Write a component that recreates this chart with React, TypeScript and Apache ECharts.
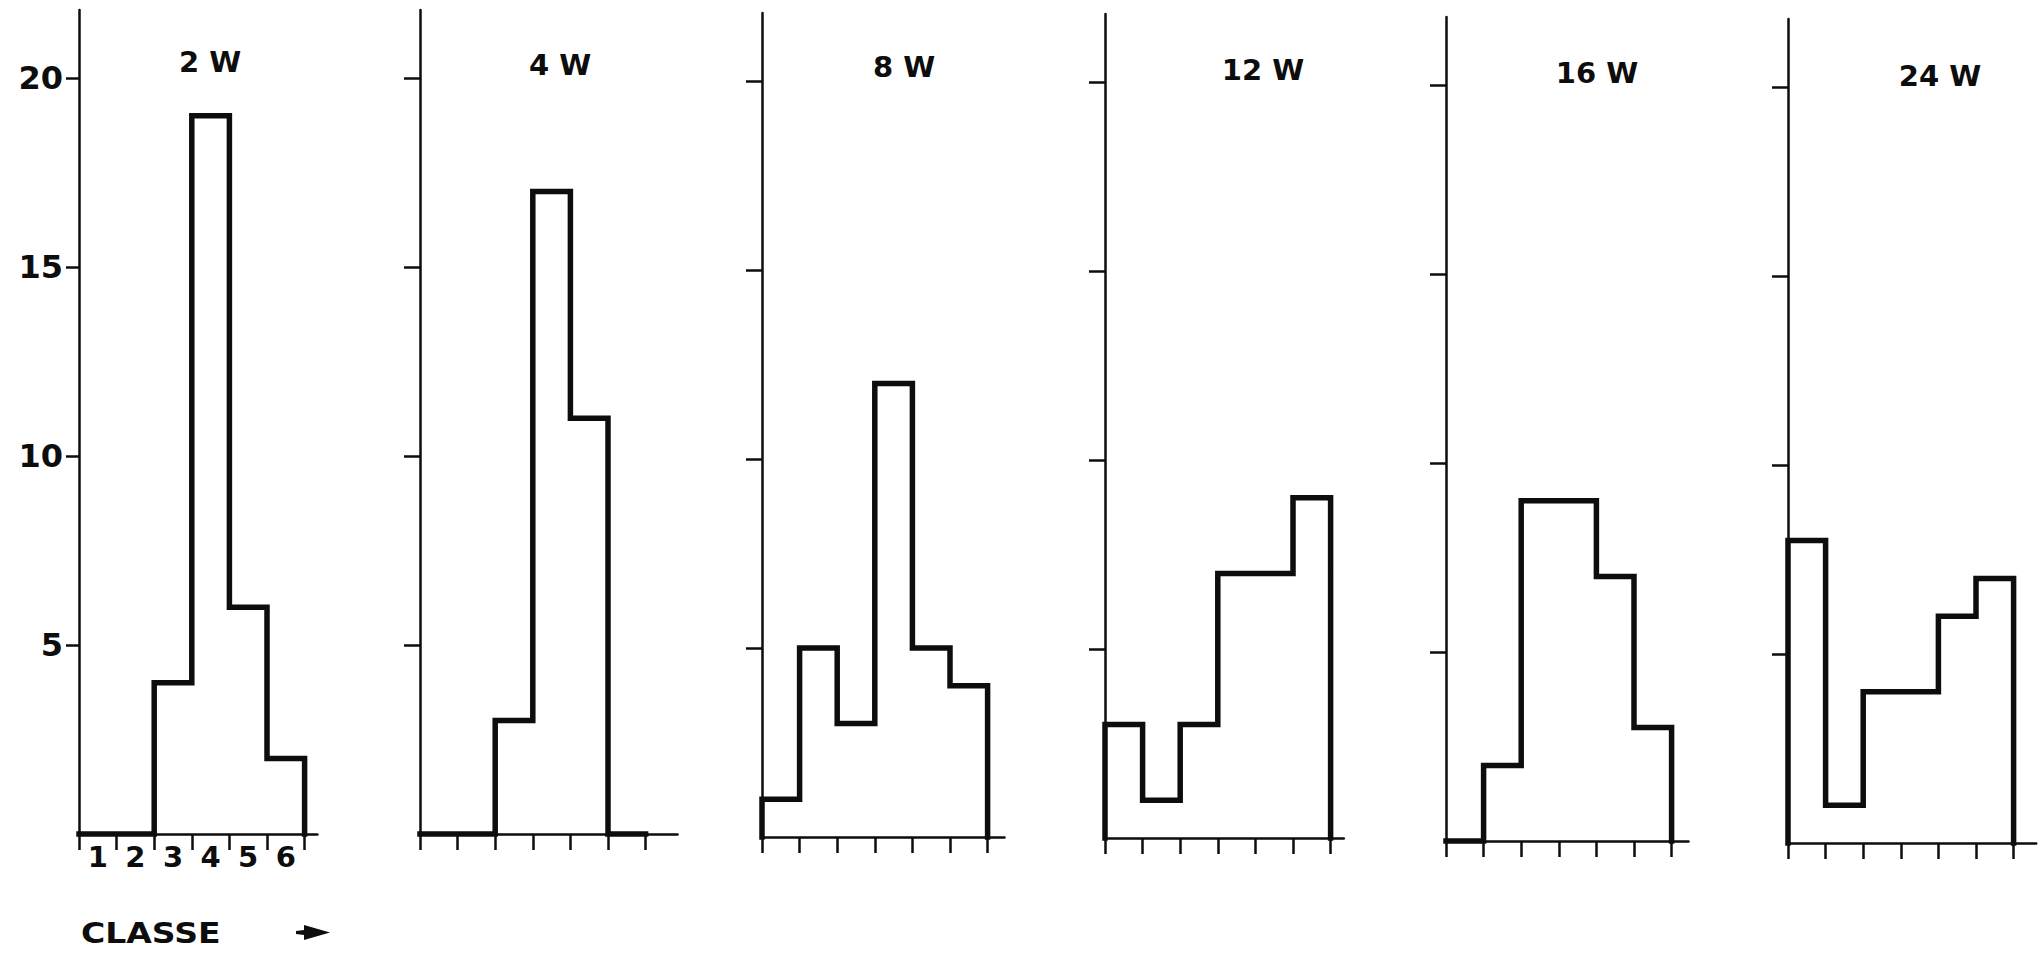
import React, { useEffect, useRef } from "react";
import * as echarts from "echarts";

// ---- data ----
const classes = ["1", "2", "3", "4", "5", "6"];
const panelTitles = ["2 W", "4 W", "8 W", "12 W", "16 W", "24 W"];
const counts2W = [0, 0, 4, 19, 6, 2];
const counts4W = [0, 0, 3, 17, 11, 0];
const counts8W = [1, 5, 3, 12, 5, 4];
const counts12W = [3, 1, 3, 7, 7, 9];
const counts16W = [0, 2, 9, 9, 7, 3];
const counts24W = [8, 1, 4, 4, 6, 7];
const yTickValues = [5, 10, 15, 20];
const xAxisLabel = "CLASSE";

const allCounts = [counts2W, counts4W, counts8W, counts12W, counts16W, counts24W];

// ---- layout (pixels) ----
const UNIT = 37.8; // px per count
const CLASS_W = 37.6; // px per class
const Y_MAX = 21.8;
const panelLayout = [
  { left: 79, base: 834, xMax: 6.34, tx: 210, ty: 62, tick: 13 },
  { left: 420, base: 834, xMax: 6.85, tx: 560, ty: 65, tick: 16 },
  { left: 762, base: 837, xMax: 6.45, tx: 904, ty: 67, tick: 16 },
  { left: 1105, base: 838, xMax: 6.35, tx: 1263, ty: 70, tick: 16 },
  { left: 1446, base: 841, xMax: 6.45, tx: 1597, ty: 73, tick: 16 },
  { left: 1788, base: 843, xMax: 6.6, tx: 1940, ty: 76, tick: 16 },
];

const FONT = "DejaVu Sans";
const INK = "#0d0d0d";

function stepPoints(values: number[]): number[][] {
  const pts: number[][] = [[0, 0]];
  values.forEach((v, i) => pts.push([i, v]));
  pts.push([values.length, values[values.length - 1]]);
  pts.push([values.length, 0]);
  return pts;
}

export default function App() {
  const ref = useRef<HTMLDivElement>(null);
  useEffect(() => {
    if (!ref.current) return;
    const chart = echarts.init(ref.current, null, { renderer: "svg" });
    const grids: any[] = [];
    const xAxes: any[] = [];
    const yAxes: any[] = [];
    const series: any[] = [];
    const titles: any[] = [];
    panelLayout.forEach((p, i) => {
      grids.push({
        left: p.left,
        top: p.base - Y_MAX * UNIT,
        width: p.xMax * CLASS_W,
        height: Y_MAX * UNIT,
        containLabel: false,
      });
      xAxes.push({
        type: "value",
        gridIndex: i,
        min: 0,
        max: p.xMax,
        axisLine: { show: true, onZero: false, lineStyle: { color: INK, width: 2.5 } },
        axisTick: {
          show: true,
          length: 16,
          inside: false,
          customValues: classes.map((_, k) => k).concat([classes.length]),
          lineStyle: { color: INK, width: 2.5 },
        },
        axisLabel: {
          show: i === 0,
          customValues: classes.map((_, k) => k + 0.5),
          formatter: (v: number) => classes[Math.floor(v)] ?? "",
          margin: 8,
          color: INK,
          fontFamily: FONT,
          fontWeight: "bold",
          fontSize: 29,
        },
        splitLine: { show: false },
      });
      yAxes.push({
        type: "value",
        gridIndex: i,
        min: 0,
        max: Y_MAX,
        axisLine: { show: true, onZero: false, lineStyle: { color: INK, width: 2.5 } },
        axisTick: {
          show: true,
          length: p.tick,
          inside: false,
          customValues: yTickValues,
          lineStyle: { color: INK, width: 2.5 },
        },
        axisLabel: {
          show: i === 0,
          customValues: yTickValues,
          margin: 16,
          color: INK,
          fontFamily: FONT,
          fontWeight: "bold",
          fontSize: 32,
        },
        splitLine: { show: false },
      });
      series.push({
        type: "line",
        name: panelTitles[i],
        xAxisIndex: i,
        yAxisIndex: i,
        step: "end",
        symbol: "none",
        clip: false,
        data: stepPoints(allCounts[i]),
        lineStyle: { color: INK, width: 5.5, join: "miter", cap: "square" },
        z: 5,
      });
      titles.push({
        text: panelTitles[i],
        left: p.tx,
        top: p.ty,
        textAlign: "center",
        textVerticalAlign: "middle",
        padding: 0,
        textStyle: { fontFamily: FONT, fontWeight: "bold", fontSize: 29, color: INK },
      });
    });

    chart.setOption({
      animation: false,
      backgroundColor: "#ffffff",
      title: titles,
      grid: grids,
      xAxis: xAxes,
      yAxis: yAxes,
      series,
      graphic: [
        {
          type: "text",
          x: 81,
          y: 933,
          scaleX: 1.14,
          style: {
            text: xAxisLabel,
            fill: INK,
            font: `bold 29px "${FONT}"`,
            verticalAlign: "middle",
            align: "left",
          },
        },
        {
          type: "polygon",
          shape: {
            points: [
              [296, 931],
              [304, 930],
              [304, 925],
              [330, 932.5],
              [304, 940],
              [304, 935],
              [296, 934],
            ],
          },
          style: { fill: INK },
        },
      ],
    });
    return () => chart.dispose();
  }, []);
  return (
    <div
      ref={ref}
      style={{ position: "fixed", left: 0, top: 0, width: 2044, height: 953, background: "#fff" }}
    />
  );
}
